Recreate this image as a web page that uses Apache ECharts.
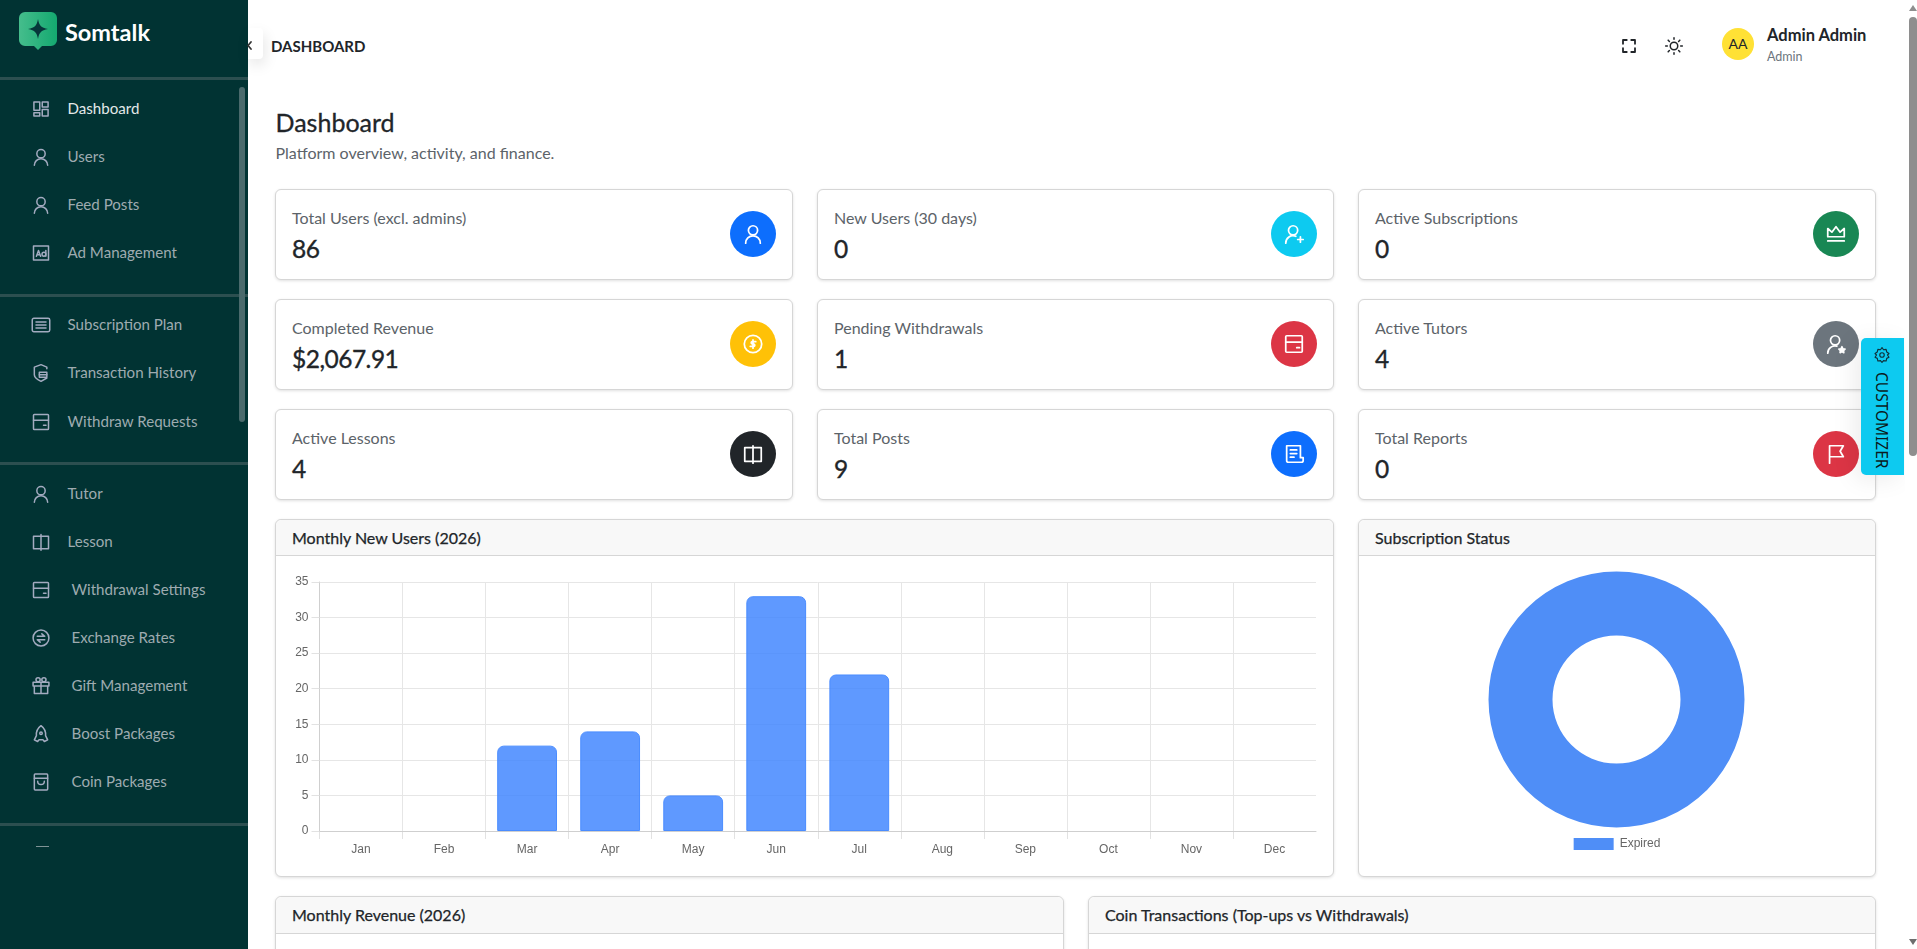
<!DOCTYPE html>
<html>
<head>
<meta charset="utf-8">
<title>Dashboard</title>
<script src="https://cdn.jsdelivr.net/npm/echarts@6/dist/echarts.min.js"></script>
<style>
    html, body { margin: 0; padding: 0; width: 1917px; height: 949px; overflow: hidden; background: #fff; }
    body { font-family: Lato, "Noto Sans", sans-serif; color: #212529; position: relative; }
    .abs { position: absolute; white-space: nowrap; }
    svg { display: block; fill: none; stroke: currentColor; stroke-width: 1.8; stroke-linecap: round; stroke-linejoin: round; }

    #sidebar { position: absolute; left: 0; top: 0; width: 248px; height: 949px; background: #013333; overflow: hidden; }
    .divider { position: absolute; left: 0; width: 248px; height: 3px; background: #2c4f50; }
    .menu-text { position: absolute; white-space: nowrap; font-size: 15.1px; color: #9eabb0; line-height: 20px; margin-top: -1px; }
    .menu-text.active { color: #e3e9e9; }
    .menu-icon { position: absolute; left: 31px; width: 20px; height: 20px; color: #a3abc0; }
    #side-thumb { position: absolute; left: 239px; top: 87px; width: 6px; height: 335px; border-radius: 3px; background: #4a6a6c; }

    .card { position: absolute; box-sizing: border-box; background: #fff; border: 1px solid #d6d6d6; border-radius: 6px; box-shadow: 0 1px 3px rgba(0,0,0,.12); }
    .card-label { position: absolute; left: 16px; top: 18px; font-size: 16px; line-height: 20px; color: #5c6369; white-space: nowrap; }
    .card-value { position: absolute; left: 16px; top: 43.5px; font-size: 24.5px; letter-spacing: -0.5px; line-height: 30px; -webkit-text-stroke: 0.35px #212529; color: #212529; white-space: nowrap; }
    .card-icon { position: absolute; right: 16px; top: 21px; width: 46px; height: 46px; border-radius: 50%; color: #fff; display: flex; align-items: center; justify-content: center; }
    .card-head { position: absolute; left: 0; top: 0; right: 0; height: 36px; box-sizing: border-box; background: #f8f8f8; border-bottom: 1px solid #d6d6d6; border-radius: 6px 6px 0 0; padding-left: 16px; font-size: 16px; -webkit-text-stroke: 0.25px #212529; line-height: 35px; color: #212529; white-space: nowrap; }
    .chart { position: absolute; left: 0; top: 36px; right: 0; bottom: 0; }
</style>
</head>
<body>
<div id="sidebar"></div>
<div id="main"></div>
<script>
// chart data
var months = ["Jan", "Feb", "Mar", "Apr", "May", "Jun", "Jul", "Aug", "Sep", "Oct", "Nov", "Dec"];
var newUsers = [0, 0, 12, 14, 5, 33, 22, 0, 0, 0, 0, 0];
var subscriptionLabels = ["Expired"];
var subscriptionValues = [1];

// page text
var menuLabels = ["Dashboard", "Users", "Feed Posts", "Ad Management", "Subscription Plan", "Transaction History", "Withdraw Requests",
    "Tutor", "Lesson", "Withdrawal Settings", "Exchange Rates", "Gift Management", "Boost Packages", "Coin Packages"];
var statLabels = ["Total Users (excl. admins)", "New Users (30 days)", "Active Subscriptions", "Completed Revenue", "Pending Withdrawals",
    "Active Tutors", "Active Lessons", "Total Posts", "Total Reports"];
var statValues = ["86", "0", "0", "$2,067.91", "1", "4", "4", "9", "0"];

var ICONS = {
    dash: '<rect x="3.5" y="3.5" width="7" height="10"/><rect x="13.5" y="3.5" width="7" height="6"/><rect x="3.5" y="16.5" width="7" height="4"/><rect x="13.5" y="12.5" width="7" height="8"/>',
    user: '<circle cx="12" cy="8" r="5"/><path d="M4 22a8 8 0 0 1 16 0"/>',
    ad: '<rect x="3" y="3.5" width="18" height="17"/><path d="M6.5 16l2.5-7 2.5 7M7.5 14h3"/><circle cx="15.5" cy="13.5" r="2.3"/><path d="M17.8 9v7"/>',
    list: '<rect x="1.5" y="4" width="21" height="16" rx="2"/><path d="M6 8.5h12M6 12h12M6 15.5h12"/>',
    shield: '<path d="M4 5l8-3 7 3v2M4 5v9c0 3 4 6 8 8l7-4M19 11h-9v6h9z"/><path d="M10 14h9"/>',
    wallet: '<rect x="3" y="3" width="18" height="18" rx="1"/><path d="M3 10h18M15 16h3"/>',
    book: '<path d="M12 5h9v15h-9zM12 5H3v15h9M12 3v19"/>',
    exchange: '<circle cx="12" cy="12" r="9.5"/><path d="M7.5 10h9l-3.5-3M16.5 14h-9l3.5 3"/>',
    gift: '<path d="M4 12v9h16v-9M2.5 7.5h19V12h-19zM12 7.5V21"/><circle cx="8.5" cy="4.5" r="2.5"/><circle cx="15.5" cy="4.5" r="2.5"/>',
    rocket: '<path d="M12 2c4 3 6 7 5.5 12l2.5 5-4 2-1.500-2h-5L8 21l-4-2 2.500-5C6 9 8 5 12 2z"/><circle cx="12" cy="11" r="1.500"/>',
    bag: '<rect x="4" y="2.500" width="16" height="19" rx="1"/><path d="M4 7.500h16M8 11a4 4 0 0 0 8 0"/>',
    userPlus: '<circle cx="11" cy="8" r="5"/><path d="M3 22a8 8 0 0 1 11-7.500M19 15v6M16 18h6"/>',
    crown: '<path d="M3 15V6l4.500 4L12 4l4.500 6L21 6v9zM3 19.500h18"/>',
    coin: '<circle cx="12" cy="12" r="9.500"/><path d="M15 9.500h-4a1.300 1.300 0 0 0 0 2.500h2a1.300 1.300 0 0 1 0 2.500H9M12 7.500v9"/>',
    userStar: '<circle cx="11" cy="8" r="5"/><path d="M3 22a8 8 0 0 1 10-7.700"/><path d="M18.500 15l1 2.200 2.300.3-1.700 1.600.4 2.300-2-1.100-2 1.100.4-2.300-1.700-1.600 2.300-.3z" fill="currentColor"/>',
    post: '<path d="M19 16V3H4v16a2 2 0 0 0 2 2h14a2 2 0 0 0 2-2v-3h-3zM8 7.500h7M8 11.500h7M8 15.500h4"/>',
    flag: '<path d="M5 22V3h15l-3.500 6 3.500 6H5"/>',
    full: '<path d="M4 9V4h5M15 4h5v5M20 15v5h-5M9 20H4v-5"/>',
    sun: '<circle cx="12" cy="12" r="4.500"/><path d="M12 2v2M12 20v2M2 12h2M20 12h2M5 5l1.500 1.500M17.500 17.500L19 19M5 19l1.500-1.500M17.500 6.500L19 5"/>',
    gear: '<circle cx="12" cy="12" r="3"/><path d="M12 2l2 3 3.500-.5.800 3.500 3 2-2 2 2 3-3 1.500-.8 3.500-3.500-.5-2 2.500-2-2.500-3.500.5-.8-3.500-3-1.500 2-3-2-2 3-2 .8-3.500 3.500.5z"/>'
};
function icon(name, size, sw) {
    return '<svg width="' + size + '" height="' + size + '" viewBox="0 0 24 24" style="stroke-width:' + sw + '">' + ICONS[name] + '</svg>';
}

// sidebar
var menuIcons = ["dash", "user", "user", "ad", "list", "shield", "wallet", "user", "book", "wallet", "exchange", "gift", "rocket", "bag"];
var menuY = [109, 157, 205, 253, 325, 373, 422, 494, 542, 590, 638, 686, 734, 782];
var side = '<svg class="abs" style="left:19px;top:12px;stroke:none" width="38" height="38" viewBox="0 0 38 38">'
    + '<defs><linearGradient id="lg" x1="0" x2="1"><stop offset="0" stop-color="#45bd8c"/><stop offset="1" stop-color="#14a970"/></linearGradient></defs>'
    + '<path fill="url(#lg)" d="M6 0h26a6 6 0 0 1 6 6v22a6 6 0 0 1-6 6h-9l-4 4-4-4H6a6 6 0 0 1-6-6V6a6 6 0 0 1 6-6z"/>'
    + '<path fill="#06363a" d="M19 7c1 6 3 9 10 10-7 1-9 4-10 10-1-6-3-9-10-10 7-1 9-4 10-10z"/></svg>'
    + '<div class="abs" style="left:65px;top:17px;font-size:23.5px;font-weight:700;line-height:30px;color:#fff">Somtalk</div>'
    + '<div class="divider" style="top:77px"></div><div class="divider" style="top:294px"></div>'
    + '<div class="divider" style="top:462px"></div><div class="divider" style="top:823px"></div>'
    + '<div id="side-thumb"></div>'
    + '<div class="abs" style="left:36px;top:846px;width:13px;height:1px;background:#7f9396"></div>';
for (var i = 0; i < menuLabels.length; i++) {
    var tx = i >= 9 ? 71.5 : 67.5;
    side += '<div class="menu-icon" style="top:' + (menuY[i] - 10) + 'px">' + icon(menuIcons[i], 20, 1.8) + '</div>'
        + '<div class="menu-text' + (i == 0 ? ' active' : '') + '" style="left:' + tx + 'px;top:' + (menuY[i] - 10) + 'px">' + menuLabels[i] + '</div>';
}
document.getElementById("sidebar").innerHTML = side;

// main area
var statIcons = ["user", "userPlus", "crown", "coin", "wallet", "userStar", "book", "post", "flag"];
var statColors = ["#0d6efd", "#0dcaf0", "#198754", "#ffc107", "#dc3545", "#6c757d", "#212529", "#0d6efd", "#dc3545"];
var colX = [275, 817, 1358], colW = [517.5, 517, 518], rowY = [189, 299, 409];
var html = '<div class="abs" style="left:248px;top:28px;width:15px;height:31px;background:#fff;border-radius:0 4px 4px 0;box-shadow:2px 6px 14px rgba(0,0,0,.1)"></div>'
    + '<svg class="abs" style="left:245px;top:40px;color:#333" width="10" height="11" viewBox="0 0 10 11"><path d="M6 2L3 5.500 6 9"/></svg>'
    + '<div class="abs" style="left:271px;top:35.500px;font-size:15px;font-weight:700;line-height:20px;color:#212529">DASHBOARD</div>'
    + '<div class="abs" style="left:1620px;top:37px;color:#212529">' + icon("full", 18, 2.4) + '</div>'
    + '<div class="abs" style="left:1664px;top:36px;color:#212529">' + icon("sun", 20, 1.8) + '</div>'
    + '<div class="abs" style="left:1722px;top:28px;width:32px;height:32px;border-radius:50%;background:#ffe135;text-align:center;line-height:32px;font-size:14px;color:#212529">AA</div>'
    + '<div class="abs" style="left:1767px;top:25px;font-size:16.500px;font-weight:700;line-height:20px;color:#212529">Admin Admin</div>'
    + '<div class="abs" style="left:1767px;top:48px;font-size:12.500px;line-height:18px;color:#6c757d">Admin</div>'
    + '<div class="abs" style="left:275.500px;top:107px;font-size:25px;-webkit-text-stroke:0.3px #212529;line-height:30px;color:#212529">Dashboard</div>'
    + '<div class="abs" style="left:275.500px;top:143px;font-size:16px;line-height:20px;color:#5c6369">Platform overview, activity, and finance.</div>';
for (var s = 0; s < statLabels.length; s++) {
    var c = s % 3, r = Math.floor(s / 3);
    html += '<div class="card" style="left:' + colX[c] + 'px;top:' + rowY[r] + 'px;width:' + colW[c] + 'px;height:91px">'
        + '<div class="card-label">' + statLabels[s] + '</div><div class="card-value">' + statValues[s] + '</div>'
        + '<div class="card-icon" style="background:' + statColors[s] + '">' + icon(statIcons[s], 22, 1.9) + '</div></div>';
}
html += '<div class="card" style="left:275px;top:519px;width:1059px;height:358px"><div class="card-head">Monthly New Users (2026)</div><div class="chart" id="usersChart"></div></div>'
    + '<div class="card" style="left:1358px;top:519px;width:518px;height:358px"><div class="card-head">Subscription Status</div><div class="chart" id="statusChart"></div></div>'
    + '<div class="card" style="left:275px;top:896px;width:789px;height:100px"><div class="card-head" style="height:37px;line-height:36px">Monthly Revenue (2026)</div></div>'
    + '<div class="card" style="left:1088px;top:896px;width:788px;height:100px"><div class="card-head" style="height:37px;line-height:36px">Coin Transactions (Top-ups vs Withdrawals)</div></div>'
    // customizer tab
    + '<div class="abs" style="left:1861px;top:338px;width:43px;height:137px;background:#0dcaf0;border-radius:5px 0 0 5px;box-shadow:-6px 4px 24px rgba(0,0,0,.08);color:#10303a">'
    + '<div class="abs" style="left:12px;top:8px">' + icon("gear", 18, 1.5) + '</div>'
    + '<div class="abs" style="left:9px;top:34px;writing-mode:vertical-rl;font-family:\'Noto Sans\',sans-serif;font-size:15.500px;line-height:24px;color:#0b1a20">CUSTOMIZER</div></div>'
    // page scrollbar
    + '<div class="abs" style="left:1905px;top:0;width:12px;height:949px;background:#fff"></div>'
    + '<div class="abs" style="left:1909px;top:17px;width:8px;height:439px;background:#8e8e8e;border-radius:4px"></div>'
    + '<div class="abs" style="left:1909px;top:5px;width:0;height:0;border-left:4px solid transparent;border-right:4px solid transparent;border-bottom:6px solid #8e8e8e"></div>'
    + '<div class="abs" style="left:1909px;top:939px;width:0;height:0;border-left:4px solid transparent;border-right:4px solid transparent;border-top:6px solid #6e6e6e"></div>';
document.getElementById("main").innerHTML = html;

// Monthly New Users bars
var usersChart = echarts.init(document.getElementById("usersChart"));
usersChart.setOption({
    animation: false,
    // second grid is only the 8px strip under the axis: Chart.js style ticks, none at the right end
    grid: [
        { left: 43.500, right: 17, top: 26, bottom: 45 },
        { left: 43.500, right: 17, height: 8, bottom: 37 }
    ],
    xAxis: [{
        type: "category",
        data: months,
        axisLine: { lineStyle: { color: "#cfcfcf", width: 1 } },
        axisTick: { show: false },
        axisLabel: { color: "#666", fontFamily: "Liberation Sans", fontSize: 12, margin: 13 },
        splitLine: { show: true, showMaxLine: false, lineStyle: { color: "#e6e6e6" } }
    }, {
        type: "category",
        gridIndex: 1,
        data: months,
        axisLine: { show: false },
        axisTick: { show: false },
        axisLabel: { show: false },
        splitLine: { show: true, showMaxLine: false, lineStyle: { color: "#e2e2e2" } }
    }],
    yAxis: [{
        type: "value",
        min: 0,
        max: 35,
        interval: 5,
        axisLine: { show: true, lineStyle: { color: "#cfcfcf" } },
        axisTick: { show: true, length: 8, lineStyle: { color: "#e2e2e2" } },
        axisLabel: { color: "#666", fontFamily: "Liberation Sans", fontSize: 12, margin: 11, padding: [4, 0, 0, 0] },
        splitLine: { show: true, lineStyle: { color: "#e6e6e6" } }
    }, {
        type: "value",
        gridIndex: 1,
        show: false
    }],
    series: [{
        type: "bar",
        barWidth: "72%",
        data: newUsers.map(function (v) {
            return { value: v, itemStyle: { borderWidth: v ? 1 : 0 } };
        }),
        itemStyle: { color: "rgba(60,130,255,0.82)", borderColor: "#4a8cff", borderRadius: [6, 6, 0, 0] }
    }]
});

// Subscription Status donut
var statusChart = echarts.init(document.getElementById("statusChart"));
statusChart.setOption({
    animation: false,
    legend: {
        left: "center",
        top: 277,
        icon: "rect",
        itemWidth: 40,
        itemHeight: 12,
        itemGap: 10,
        textStyle: { color: "#666", fontFamily: "Liberation Sans", fontSize: 12, padding: [0, 0, 0, 1] },
        data: subscriptionLabels
    },
    series: [{
        type: "pie",
        center: [257.500, 143.500],
        radius: [64, 128],
        silent: true,
        label: { show: false },
        itemStyle: { color: "#4f8ef7" },
        data: subscriptionLabels.map(function (name, k) {
            return { name: name, value: subscriptionValues[k] };
        })
    }]
});

window.addEventListener("resize", function () {
    usersChart.resize();
    statusChart.resize();
});
</script>
</body>
</html>
